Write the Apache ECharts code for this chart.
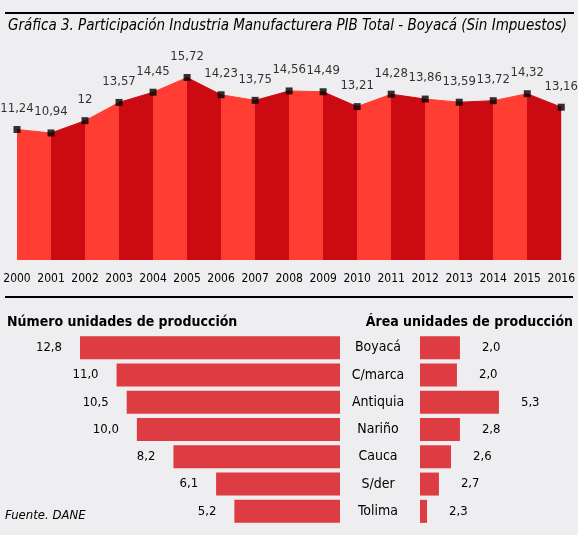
<!DOCTYPE html>
<html>
<head>
<meta charset="utf-8">
<script src="https://cdn.jsdelivr.net/npm/echarts@6/dist/echarts.min.js"></script>
<style>
html,body{margin:0;padding:0;background:#eeeef0;}
#chart{width:578px;height:535px;}
</style>
</head>
<body>
<div id="chart"></div>
<script>
// ---- Data ----
const years = ['2000','2001','2002','2003','2004','2005','2006','2007','2008','2009','2010','2011','2012','2013','2014','2015','2016'];
const share = [11.24,10.94,12,13.57,14.45,15.72,14.23,13.75,14.56,14.49,13.21,14.28,13.86,13.59,13.72,14.32,13.16];
const departments = ['Boyacá','C/marca','Antiquia','Nariño','Cauca','S/der','Tolima'];
const unitsCount = [12.8,11.0,10.5,10.0,8.2,6.1,5.2];
// printed labels for the area chart
const unitsArea = [2.0,2.0,5.3,2.8,2.6,2.7,2.3];
// bar lengths as drawn in the picture (estimated)
const unitsAreaBar = [2.68,2.48,5.3,2.68,2.08,1.27,0.47];

const FONT = "'Liberation Sans Narrow','DejaVu Sans Condensed','Roboto Condensed',Roboto,sans-serif";
const TXT = '#000';
const LIGHT = '#ff3d33';
const DARK = '#cc0a12';
const BAR = '#dc3c42';
const fmt = v => String(v).replace('.', ',');

const pieces = [];
for (let i = 0; i < years.length; i++) {
  pieces.push({gte: i, lt: i + 1, color: i % 2 === 0 ? LIGHT : DARK});
}

const chart = echarts.init(document.getElementById('chart'));
chart.setOption({
  backgroundColor: '#eeeef0',
  animation: false,
  textStyle: {fontFamily: FONT},
  visualMap: {show: false, type: 'piecewise', dimension: 0, seriesIndex: 0, pieces: pieces},
  grid: [
    {left: 17, right: 16, top: 51, height: 209},
    {left: 35.3, right: 238, top: 334, height: 191},
    {left: 420, right: 9, top: 334, height: 191}
  ],
  xAxis: [
    {gridIndex: 0, type: 'category', data: years, boundaryGap: false,
     axisLine: {show: false}, axisTick: {show: false},
     axisLabel: {interval: 0, color: TXT, fontSize: 12, fontFamily: FONT, margin: 13}},
    {gridIndex: 1, type: 'value', min: 0, max: 15, inverse: true, show: false},
    {gridIndex: 2, type: 'value', min: 0, max: 10, show: false}
  ],
  yAxis: [
    {gridIndex: 0, type: 'value', min: 0, max: 18, show: false},
    {gridIndex: 1, type: 'category', data: departments, inverse: true, show: false},
    {gridIndex: 2, type: 'category', data: departments, inverse: true,
     axisLine: {show: false}, axisTick: {show: false},
     axisLabel: {color: TXT, fontSize: 14, fontFamily: FONT, align: 'center', margin: 42}}
  ],
  series: [
    {type: 'line', xAxisIndex: 0, yAxisIndex: 0, data: share, symbol: 'none',
     lineStyle: {width: 1}, areaStyle: {opacity: 1}, z: 2},
    {type: 'scatter', xAxisIndex: 0, yAxisIndex: 0, data: share, symbol: 'rect', symbolSize: 7,
     itemStyle: {color: '#000'}, z: 5,
     label: {show: true, position: 'top', distance: 11, color: TXT, fontSize: 13, fontFamily: FONT,
             formatter: p => fmt(p.value)}},
    {type: 'bar', xAxisIndex: 1, yAxisIndex: 1, data: unitsCount, barWidth: 23,
     itemStyle: {color: BAR},
     label: {show: true, position: 'left', distance: 18, color: TXT, fontSize: 13, fontFamily: FONT,
             formatter: p => p.value.toFixed(1).replace('.', ',')}},
    {type: 'bar', xAxisIndex: 2, yAxisIndex: 2, data: unitsAreaBar, barWidth: 23,
     itemStyle: {color: BAR},
     label: {show: true, position: 'right', distance: 22, color: TXT, fontSize: 13, fontFamily: FONT,
             formatter: p => unitsArea[p.dataIndex].toFixed(1).replace('.', ',')}}
  ],
  graphic: [
    {type: 'line', shape: {x1: 5, y1: 13, x2: 574, y2: 13}, style: {stroke: '#000', lineWidth: 2}},
    {type: 'text', left: 8, top: 19, style: {text: 'Gráfica 3. Participación Industria Manufacturera PIB Total - Boyacá (Sin Impuestos)',
      fill: TXT, font: "italic 500 15px " + FONT}},
    {type: 'line', shape: {x1: 5, y1: 297, x2: 573, y2: 297}, style: {stroke: '#000', lineWidth: 2}},
    {type: 'text', left: 7, top: 315, style: {text: 'Número unidades de producción', fill: TXT, font: "bold 14px " + FONT}},
    {type: 'text', right: 5, top: 315, style: {text: 'Área unidades de producción', fill: TXT, font: "bold 14px " + FONT}},
    {type: 'text', left: 5, top: 509, style: {text: 'Fuente. DANE', fill: TXT, font: "italic 13px " + FONT}}
  ]
});
</script>
</body>
</html>
